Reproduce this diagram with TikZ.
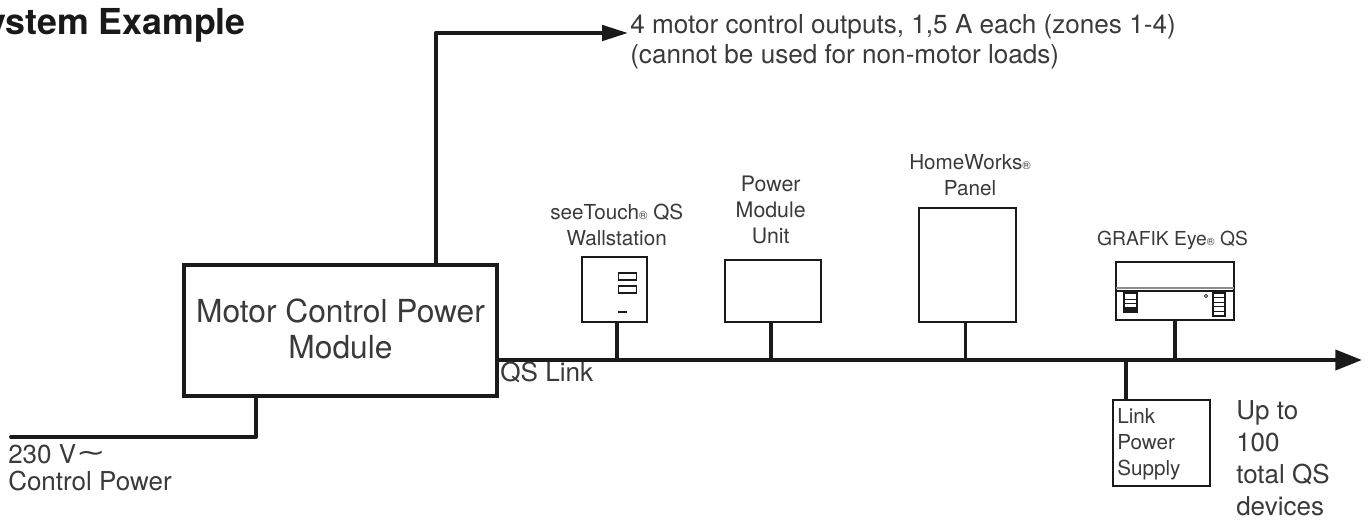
\documentclass[tikz,border=0pt]{standalone}
\usepackage{fontspec}
\setmainfont{TeX Gyre Heros}
\newfontfamily\symbfont{DejaVu Sans}
\usetikzlibrary{arrows.meta}
\definecolor{inkgray}{HTML}{3A3A3A}
\definecolor{wiregray}{HTML}{1A1A1A}
\newcommand{\regd}{\scalebox{0.55}{®}}
\tikzset{
    wire/.style={line width=2.9pt, draw=wiregray, line cap=round, line join=round},
    stem/.style={line width=2.6pt, draw=wiregray},
    devbox/.style={draw=wiregray, line width=1.4pt, inner sep=0pt},
    caption/.style={text=inkgray, inner sep=0pt, align=center, font=\fontsize{15.5}{19.5}\selectfont},
    note/.style={text=inkgray, inner sep=0pt, align=left, anchor=north west, font=\fontsize{19.6}{23}\selectfont},
    button/.style={draw=wiregray, line width=0.8pt, minimum width=13.5pt, minimum height=5.25pt, inner sep=0pt},
    slider/.style={draw=wiregray, line width=1pt, minimum width=#1, inner sep=0pt}
}
\begin{document}
\begin{tikzpicture}[x=0.75pt, y=-0.75pt]
    \useasboundingbox (0,0) rectangle (1370,519);
    \node[anchor=base east, inner sep=0pt, text=black!90, font=\fontsize{26.8}{30}\bfseries\selectfont] (title) at (246,34.5) {System Example};
    % module and its wires
    \node[draw=wiregray, line width=2.9pt, minimum width=235pt, minimum height=98pt, inner sep=0pt, align=center, text=inkgray, font=\fontsize{23.8}{27.5}\selectfont] (module) at (340.5,330.5) {Motor Control Power\\Module\rule[-3pt]{0pt}{0pt}};
    \coordinate (outcorner) at (436,33);
    \coordinate (outtip) at (628,33);
    \coordinate (incorner) at (256,437);
    \coordinate (inend) at (11,437);
    \coordinate (busend) at (1362,360);
    \draw[wire] (module.north -| outcorner) -- (outcorner);
    \draw[wire, -{Triangle[length=19.5pt, width=11.5pt]}] (outcorner) -- (outtip);
    \draw[wire] (module.south -| incorner) -- (incorner) -- (inend);
    \draw[wire, -{Triangle[length=20pt, width=15pt]}] (module.east |- busend) -- (busend);
    \node[note] (outnote) at (630,14) {4 motor control outputs, 1,5 A each (zones 1-4)\\(cannot be used for non-motor loads)};
    \node[note, font=\fontsize{19.5}{20.5}\selectfont] (innote) at (8,444) {230 V{\symbfont\raisebox{1pt}{\scalebox{1.35}[1]{∼}}}\\Control Power};
    \node[note] (linknote) at (500,362) {QS Link};
    \node[note, font=\fontsize{19.5}{24}\selectfont] (countnote) at (1236,400.5) {Up to\\100\\total QS\\devices};
    % devices on the link
    \node[devbox, minimum width=48.75pt, minimum height=48.75pt] (wallstation) at (614.5,289.5) {};
    \node[devbox, minimum width=72pt, minimum height=46.5pt] (powerunit) at (773,291) {};
    \node[devbox, minimum width=72.75pt, minimum height=85.5pt] (panel) at (967.5,265) {};
    \node[devbox, minimum width=88.5pt, minimum height=43.5pt] (grafik) at (1174.75,291) {};
    \node[devbox, minimum width=72.5pt, minimum height=64.5pt] (supply) at (1161.5,443) {};
    \coordinate (tapwall) at (617,360);
    \coordinate (tappower) at (771,360);
    \coordinate (tappanel) at (965.5,360);
    \coordinate (tapgrafik) at (1175,360);
    \coordinate (tapsupply) at (1126,360);
    \draw[stem] (wallstation.south -| tapwall) -- (tapwall);
    \draw[stem] (powerunit.south -| tappower) -- (tappower);
    \draw[stem] (panel.south -| tappanel) -- (tappanel);
    \draw[stem] (grafik.south -| tapgrafik) -- (tapgrafik);
    \draw[stem] (supply.north -| tapsupply) -- (tapsupply);
    \node[caption, anchor=south] (walltext) at (616.7,246) {seeTouch\regd{} QS\\Wallstation};
    \node[caption, anchor=south, font=\fontsize{16}{19.5}\selectfont] (powertext) at (770.7,244) {Power\\Module\\Unit};
    \node[caption, anchor=south, font=\fontsize{15.5}{20}\selectfont] (paneltext) at (970,196.5) {HomeWorks\regd\\Panel};
    \node[caption, anchor=south, font=\fontsize{14.45}{16}\selectfont] (grafiktext) at (1172.5,250) {GRAFIK Eye\regd{} QS};
    \node[note, font=\fontsize{15.5}{19.5}\selectfont] (supplytext) at (1117,408) {Link\\Power\\Supply};
    % wallstation face
    \node[button] (btnup) at (627.5,276.5) {};
    \node[button] (btndown) at (627.5,289.5) {};
    \node[fill=wiregray, minimum width=6.5pt, minimum height=1.9pt, inner sep=0pt] (btnlow) at (622.5,312) {};
    % grafik face
    \coordinate (bandleft) at (1115.5,291.3);
    \coordinate (bandright) at (1234,291.3);
    \coordinate (greyleft) at (1115.5,288);
    \coordinate (greyright) at (1234,288);
    \draw[line width=1.5pt, draw=wiregray] (bandleft) -- (bandright);
    \draw[line width=1pt, draw=black!45] (greyleft) -- (greyright);
    \node[slider=9.75pt, minimum height=14.25pt, path picture={
        \foreach \rowy in {-4,-1,2} \draw[line width=0.9pt, draw=wiregray] (path picture bounding box.west) ++(0,\rowy pt) -- ++(12pt,0);
        \fill[wiregray] (path picture bounding box.south west) rectangle ([yshift=3.8pt]path picture bounding box.south east);
    }] (sliderleft) at (1130.5,302.5) {};
    \node[slider=9pt, minimum height=17.25pt, path picture={
        \foreach \rowy in {-5.2,-1.7,1.7,5.2} \draw[line width=0.9pt, draw=wiregray] (path picture bounding box.west) ++(0,\rowy pt) -- ++(12pt,0);
    }] (sliderright) at (1219,304.5) {};
    \node[draw=wiregray, circle, line width=0.6pt, minimum size=2.4pt, inner sep=0pt] (eyedot) at (1206,296) {};
\end{tikzpicture}
\end{document}
